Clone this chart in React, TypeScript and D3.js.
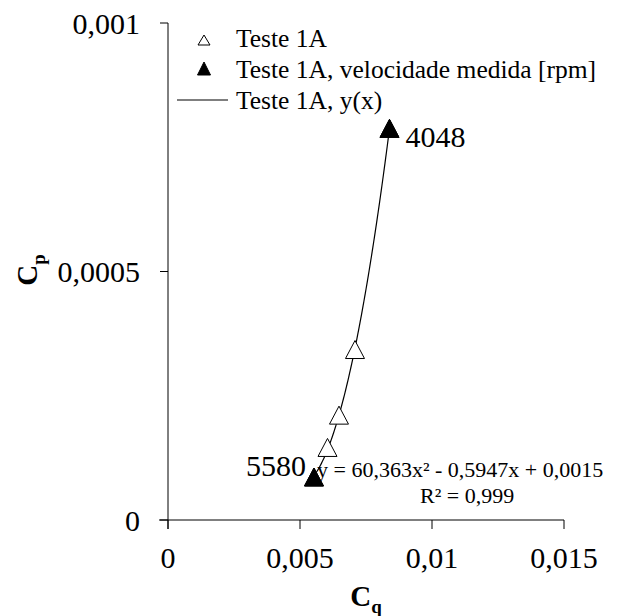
import React from "react";
import * as d3 from "d3";

// Data
const cqOpen: number[] = [0.00553, 0.006042, 0.006477, 0.007083, 0.00839];
const cpOpen: number[] = [0.0000865, 0.000146, 0.000211, 0.000343, 0.000788];
const cqMeasured: number[] = [0.00839, 0.00553];
const cpMeasured: number[] = [0.000788, 0.0000865];
const rpmLabels: string[] = ["4048", "5580"];
const xTicks: number[] = [0, 0.005, 0.01, 0.015];
const yTicks: number[] = [0, 0.0005, 0.001];
const xTickLabels: string[] = ["0", "0,005", "0,01", "0,015"];
const yTickLabels: string[] = ["0", "0,0005", "0,001"];
const legendLabels: string[] = [
  "Teste 1A",
  "Teste 1A, velocidade medida [rpm]",
  "Teste 1A, y(x)",
];
const equationLines: string[] = ["y = 60,363x\u00B2 - 0,5947x + 0,0015", "R\u00B2 = 0,999"];

// least squares quadratic fit (trendline)
function quadFit(xs: number[], ys: number[]): [number, number, number] {
  let s0 = 0, s1 = 0, s2 = 0, s3 = 0, s4 = 0, t0 = 0, t1 = 0, t2 = 0;
  for (let i = 0; i < xs.length; i++) {
    const x = xs[i], y = ys[i];
    s0 += 1; s1 += x; s2 += x * x; s3 += x * x * x; s4 += x * x * x * x;
    t0 += y; t1 += x * y; t2 += x * x * y;
  }
  const M = [
    [s4, s3, s2, t2],
    [s3, s2, s1, t1],
    [s2, s1, s0, t0],
  ];
  for (let c = 0; c < 3; c++) {
    let p = c;
    for (let r = c + 1; r < 3; r++) if (Math.abs(M[r][c]) > Math.abs(M[p][c])) p = r;
    [M[c], M[p]] = [M[p], M[c]];
    for (let r = 0; r < 3; r++) {
      if (r === c) continue;
      const f = M[r][c] / M[c][c];
      for (let k = c; k < 4; k++) M[r][k] -= f * M[c][k];
    }
  }
  return [M[0][3] / M[0][0], M[1][3] / M[1][1], M[2][3] / M[2][2]];
}

function T(props: any) {
  const { children, ...rest } = props;
  return (
    <text {...rest} fontFamily="Liberation Serif" style={{ fontFamily: "Liberation Serif" }}>
      {children}
    </text>
  );
}

export default function App() {
  const W = 621, H = 616;
  const x = d3.scaleLinear().domain([0, 0.015]).range([168, 564]);
  const y = d3.scaleLinear().domain([0, 0.001]).range([520, 23]);

  const [a, b, c] = quadFit(cqOpen, cpOpen);
  const xMin = d3.min(cqOpen) as number;
  const xMax = d3.max(cqOpen) as number;
  const fitPts: [number, number][] = d3
    .range(0, 101)
    .map((i) => xMin + ((xMax - xMin) * i) / 100)
    .map((v) => [v, a * v * v + b * v + c]);
  const line = d3
    .line<[number, number]>()
    .x((d) => x(d[0]))
    .y((d) => y(d[1]));

  const tri = (cx: number, cy: number, w: number, h: number) =>
    `M${cx},${cy - h / 2}L${cx + w / 2},${cy + h / 2}L${cx - w / 2},${cy + h / 2}Z`;

  const ticksLen = 9;

  return (
    <svg width={W} height={H} style={{ position: "absolute", left: 0, top: 0 }}>
      <style>{`text { font-family: "Liberation Serif"; }`}</style>
      {/* axes */}
      <line x1={x(0)} x2={x(0)} y1={y(0.001)} y2={y(0) + ticksLen} stroke="#000" strokeWidth={1} />
      <line x1={x(0) - ticksLen} x2={x(0.015)} y1={y(0)} y2={y(0)} stroke="#000" strokeWidth={1} />
      {yTicks.map((t, i) => (
        <g key={"yt" + i}>
          <line x1={x(0) - 8} x2={x(0)} y1={y(t)} y2={y(t)} stroke="#000" />
          <T x={140} y={y(t) + 10.5} textAnchor="end" fontSize={30}>
            {yTickLabels[i]}
          </T>
        </g>
      ))}
      {xTicks.map((t, i) => (
        <g key={"xt" + i}>
          <line x1={x(t)} x2={x(t)} y1={y(0)} y2={y(0) + ticksLen} stroke="#000" />
          <T x={x(t)} y={568} textAnchor="middle" fontSize={30}>
            {xTickLabels[i]}
          </T>
        </g>
      ))}
      {/* axis titles */}
      <T x={366} y={606} textAnchor="middle" fontWeight="bold" fontSize={29}>
        C<tspan fontSize={19} dy={7}>q</tspan>
      </T>
      <T transform="translate(37,270) rotate(-90)" textAnchor="middle" fontWeight="bold" fontSize={29}>
        C<tspan fontSize={19} dy={8}>p</tspan>
      </T>

      {/* trendline */}
      <path d={line(fitPts) || ""} fill="none" stroke="#000" strokeWidth={1.2} />

      {/* open triangles */}
      {cqOpen.map((v, i) => (
        <path key={"o" + i} d={tri(x(v), y(cpOpen[i]), 19, 18)} fill="#fff" stroke="#000" strokeWidth={1} />
      ))}
      {/* filled triangles */}
      {cqMeasured.map((v, i) => (
        <path key={"f" + i} d={tri(x(v), y(cpMeasured[i]), 19, 18)} fill="#000" stroke="#000" />
      ))}
      {/* rpm labels */}
      <T x={x(cqMeasured[0]) + 16} y={y(cpMeasured[0]) + 18.5} fontSize={30}>
        {rpmLabels[0]}
      </T>
      <T x={x(cqMeasured[1]) - 8} y={y(cpMeasured[1]) - 1} textAnchor="end" fontSize={30}>
        {rpmLabels[1]}
      </T>

      {/* equation */}
      <T x={317} y={477} fontSize={22}>
        {equationLines[0]}
      </T>
      <T x={420} y={503} fontSize={22}>
        {equationLines[1]}
      </T>

      {/* legend */}
      <path d={tri(204, 40, 12, 10)} fill="#fff" stroke="#000" />
      <T x={236} y={47} fontSize={25.5}>
        {legendLabels[0]}
      </T>
      <path d={tri(204, 68.5, 13, 13)} fill="#000" stroke="#000" />
      <T x={236} y={78} fontSize={25.5}>
        {legendLabels[1]}
      </T>
      <line x1={177} x2={228} y1={100} y2={100} stroke="#000" strokeWidth={1.2} />
      <T x={236} y={109} fontSize={25.5}>
        {legendLabels[2]}
      </T>
    </svg>
  );
}
